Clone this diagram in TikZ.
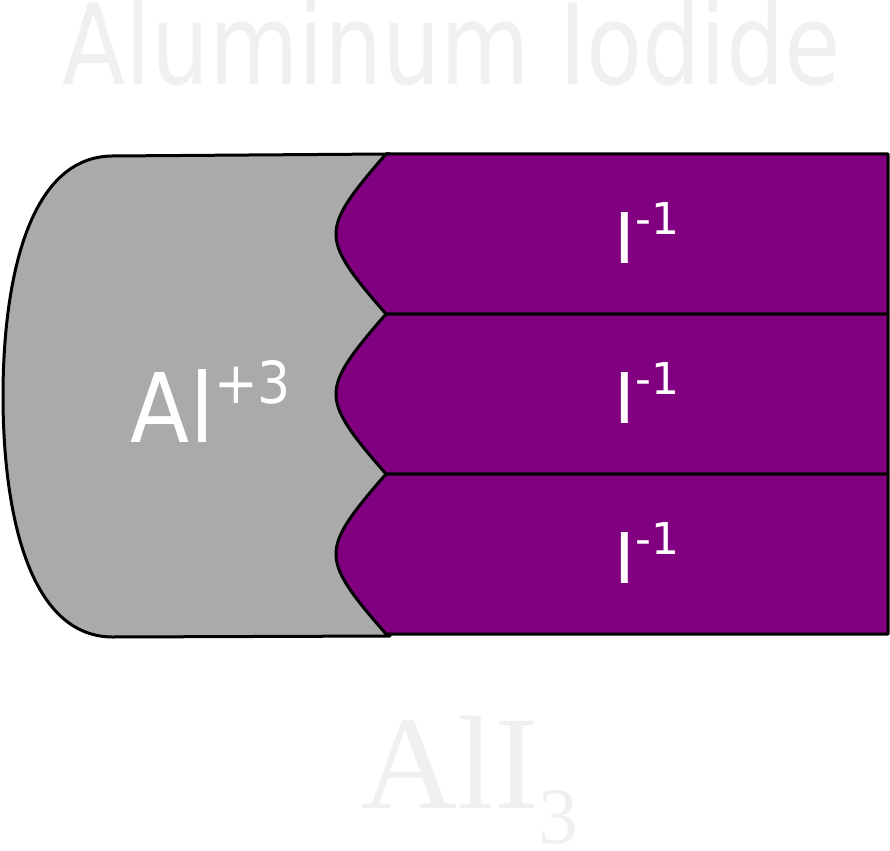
\documentclass[tikz,border=0pt]{standalone}
\usepackage{fontspec}
\newfontfamily\ionfont{DejaVu Sans}
\newfontfamily\formulafont{Liberation Serif}
\definecolor{alum}{HTML}{AAAAAA}
\definecolor{iodine}{HTML}{800080}
\definecolor{faintgray}{HTML}{F0F0F0}

\begin{document}
\begin{tikzpicture}[x=1pt,y=-1pt,
    cation/.style={fill=alum,draw=black,line width=3pt,line join=round},
    anion/.style={fill=iodine,draw=black,line width=3pt,line join=round},
    charge/.style={text=white,inner sep=0pt,anchor=base},
    faint/.style={text=faintgray,inner sep=0pt,anchor=base}]
  \useasboundingbox (0,0) rectangle (890,850);
  % name of the compound, very pale, above the puzzle pieces
  \node[faint,xscale=0.82,font=\ionfont\fontsize{112}{112}\selectfont] (title) at (452,85) {Aluminum Iodide};
  % the aluminium piece, its right side is hidden under the three iodide pieces
  \draw[cation] (386,154) -- (112,156) .. controls (25,157) and (3,290) .. (3,396)
    .. controls (3,502) and (25,636) .. (112,637) -- (390,636) -- (390,154) -- cycle;
  \node[charge,xscale=0.9,font=\ionfont] (al) at (211,442)
    {\fontsize{96}{96}\selectfont Al\raisebox{39pt}{\fontsize{58}{58}\selectfont +3}};
  % three iodide pieces, each with a bump that fits into the aluminium
  \draw[anion] (386,154) -- (888,154) -- (888,314) -- (386,314)
    .. controls (350,273) and (336,253) .. (336,234) .. controls (336,215) and (350,195) .. cycle;
  \draw[anion] (386,314) -- (888,314) -- (888,474) -- (386,474)
    .. controls (350,433) and (336,413) .. (336,394) .. controls (336,375) and (350,355) .. cycle;
  \draw[anion] (386,474) -- (888,474) -- (888,634) -- (386,634)
    .. controls (350,593) and (336,573) .. (336,554) .. controls (336,535) and (350,515) .. cycle;
  \node[charge,font=\ionfont] (iodA) at (647,263)
    {\fontsize{70}{70}\selectfont I\raisebox{29pt}{\fontsize{44}{44}\selectfont -1}};
  \node[charge,font=\ionfont] (iodB) at (647,423)
    {\fontsize{70}{70}\selectfont I\raisebox{29pt}{\fontsize{44}{44}\selectfont -1}};
  \node[charge,font=\ionfont] (iodC) at (647,583)
    {\fontsize{70}{70}\selectfont I\raisebox{29pt}{\fontsize{44}{44}\selectfont -1}};
  % formula below
  \node[faint,font=\formulafont] (formula) at (470,808)
    {\fontsize{133}{133}\selectfont AlI\raisebox{-35pt}{\fontsize{80}{80}\selectfont 3}};
\end{tikzpicture}
\end{document}
